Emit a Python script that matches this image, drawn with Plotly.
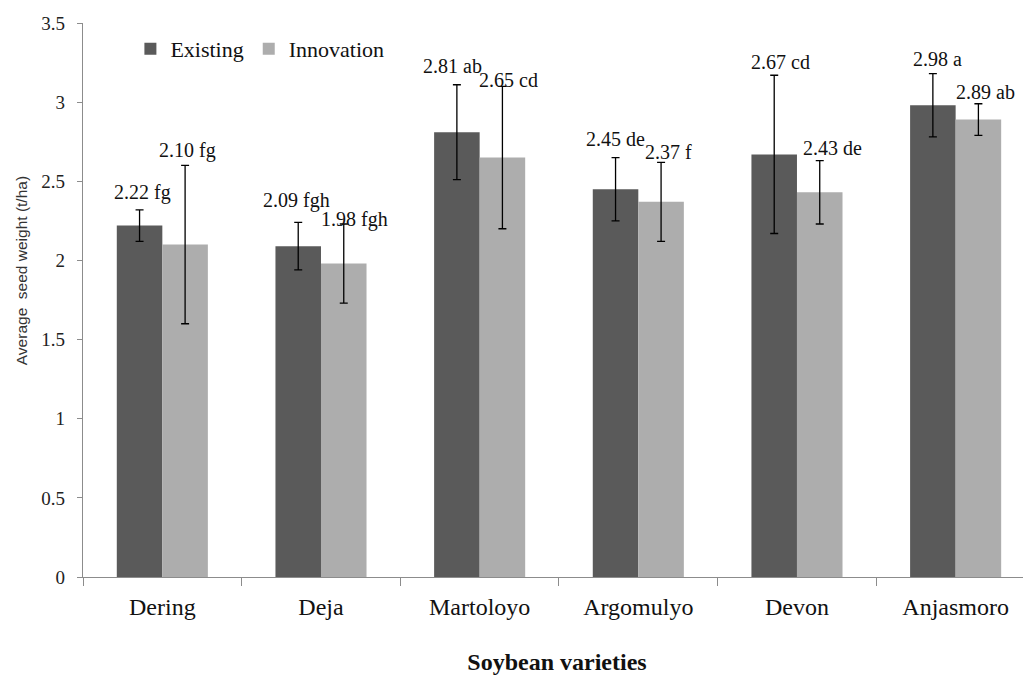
import plotly.graph_objects as go

varieties = ["Dering", "Deja", "Martoloyo", "Argomulyo", "Devon", "Anjasmoro"]
existing = [2.22, 2.09, 2.81, 2.45, 2.67, 2.98]
existing_err = [0.10, 0.15, 0.30, 0.20, 0.50, 0.20]
existing_letters = ["fg", "fgh", "ab", "de", "cd", "a"]
innovation = [2.10, 1.98, 2.65, 2.37, 2.43, 2.89]
innovation_err = [0.50, 0.25, 0.45, 0.25, 0.20, 0.10]
innovation_letters = ["fg", "fgh", "cd", "f", "de", "ab"]

# styling: pixel nudges of the data labels (relative to the error bar top)
ex_label_dx = [3, -2, -4, 0, 6, 5]
ex_label_dy = [17, 22, 19, 19, 13, 15]
in_label_dx = [2, 11, 6, 7, 13, 7]
in_label_dy = [15, 5, 6, 10, 13, 12]

FONT = "Liberation Serif, Times New Roman, serif"
SANS = "Liberation Sans, Arial, sans-serif"
DARK = "#5a5a5a"
LIGHT = "#adadad"
BAR_HALF = 22.7  # half bar width in px

fig = go.Figure()
fig.add_trace(go.Bar(
    name="Existing", x=varieties, y=existing,
    marker=dict(color=DARK, line=dict(width=0)),
    error_y=dict(type="data", array=existing_err, color="black", thickness=1.3, width=4),
    offsetgroup="e",
))
fig.add_trace(go.Bar(
    name="Innovation", x=varieties, y=innovation,
    marker=dict(color=LIGHT, line=dict(width=0)),
    error_y=dict(type="data", array=innovation_err, color="black", thickness=1.3, width=4),
    offsetgroup="i",
))

annotations = []
for i, v in enumerate(varieties):
    annotations.append(dict(
        x=v, y=existing[i] + existing_err[i], xref="x", yref="y",
        text=f"{existing[i]:.2f} {existing_letters[i]}", showarrow=False,
        xshift=-BAR_HALF + ex_label_dx[i], yshift=ex_label_dy[i],
        font=dict(family=FONT, size=20, color="#111"),
    ))
    annotations.append(dict(
        x=v, y=innovation[i] + innovation_err[i], xref="x", yref="y",
        text=f"{innovation[i]:.2f} {innovation_letters[i]}", showarrow=False,
        xshift=BAR_HALF + in_label_dx[i], yshift=in_label_dy[i],
        font=dict(family=FONT, size=20, color="#111"),
    ))

# y-axis title (sans-serif, sits a little above the plot's middle)
annotations.append(dict(
    text="Average  seed weight (t/ha)", xref="paper", yref="paper",
    x=-0.0654, y=0.552, xanchor="center", yanchor="middle", textangle=-90,
    showarrow=False, font=dict(family=SANS, size=15.5, color="#333"),
))

# page body has an 8px default margin; compensate so the figure fills the 1031x675 window
fig.update_layout(
    width=1023, height=667,
    margin=dict(l=75, r=0, t=15, b=98),
    paper_bgcolor="white", plot_bgcolor="white",
    barmode="group", bargap=0.426, bargroupgap=0,
    font=dict(family=FONT, color="#222"),
    showlegend=True,
    legend=dict(
        orientation="h", x=0.05, y=0.953, xanchor="left", yanchor="middle",
        font=dict(family=FONT, size=22, color="#111"),
        bgcolor="rgba(0,0,0,0)", itemwidth=30, tracegroupgap=0,
    ),
    annotations=annotations,
)
fig.update_xaxes(
    range=[-0.5, 5.475], automargin=False,
    showline=True, linecolor="#8c8c8c", linewidth=1.3,
    ticks="outside", tickson="boundaries", ticklen=8, tickcolor="#8c8c8c",
    tickfont=dict(family=FONT, size=24, color="#111"), ticklabelstandoff=8,
    showgrid=False, zeroline=False,
    title=dict(text="<b>Soybean varieties</b>", font=dict(family=FONT, size=24, color="#111"), standoff=34),
)
fig.update_yaxes(
    range=[0, 3.5], dtick=0.5, tick0=0, automargin=False,
    showline=True, linecolor="#8c8c8c", linewidth=1.3,
    ticks="outside", ticklen=5, tickcolor="#8c8c8c",
    tickfont=dict(family=FONT, size=19, color="#222"), ticklabelstandoff=8,
    showgrid=False, zeroline=False,
)

fig.write_html("out.html")
